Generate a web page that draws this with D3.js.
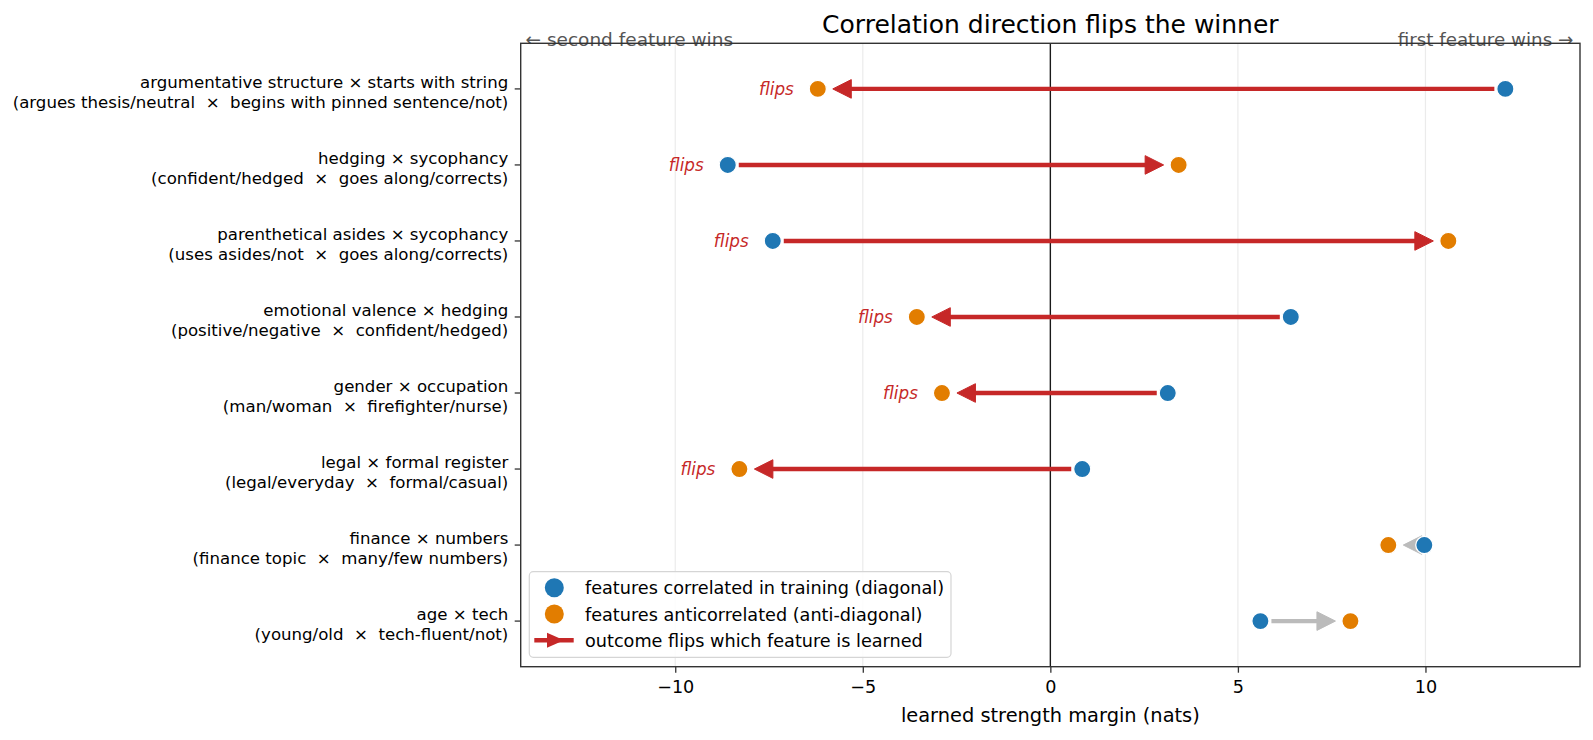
<!DOCTYPE html>
<html>
<head>
<meta charset="utf-8">
<script src="https://cdn.jsdelivr.net/npm/d3@7"></script>
<style>
  html, body { margin: 0; padding: 0; background: #fff; }
  text { font-family: "DejaVu Sans", sans-serif; white-space: pre; }
</style>
</head>
<body>
<svg id="chart" width="1593" height="740"></svg>
<script>
// ---- data ----
const pairNames = [
  "argumentative structure × starts with string",
  "hedging × sycophancy",
  "parenthetical asides × sycophancy",
  "emotional valence × hedging",
  "gender × occupation",
  "legal × formal register",
  "finance × numbers",
  "age × tech"
];
const pairDetails = [
  "(argues thesis/neutral  ×  begins with pinned sentence/not)",
  "(confident/hedged  ×  goes along/corrects)",
  "(uses asides/not  ×  goes along/corrects)",
  "(positive/negative  ×  confident/hedged)",
  "(man/woman  ×  firefighter/nurse)",
  "(legal/everyday  ×  formal/casual)",
  "(finance topic  ×  many/few numbers)",
  "(young/old  ×  tech-fluent/not)"
];
const diagonalMargin =     [12.13, -8.60, -7.40,  6.41,  3.13,  0.85, 9.97, 5.60];
const antiDiagonalMargin = [-6.20,  3.42, 10.61, -3.56, -2.89, -8.29, 9.01, 8.00];
const xTickValues = [-10, -5, 0, 5, 10];
const xDomain = [-14.12, 14.12];
const legendLabels = [
  "features correlated in training (diagonal)",
  "features anticorrelated (anti-diagonal)",
  "outcome flips which feature is learned"
];

// ---- layout ----
const L = 520.7, R = 1580, T = 43.3, B = 666.7;
const BLUE = "#1f77b4", ORANGE = "#e27d00", RED = "#c62828", GREY = "#bbbbbb";

const svg = d3.select("#chart");
const x = d3.scaleLinear().domain(xDomain).range([L, R]);
const y = d3.scalePoint().domain(d3.range(pairNames.length)).range([T, B]).padding(0.6);

const rows = pairNames.map((n, i) => ({
  i, name: n, detail: pairDetails[i],
  a: diagonalMargin[i], b: antiDiagonalMargin[i],
  flip: Math.sign(diagonalMargin[i]) !== Math.sign(antiDiagonalMargin[i])
}));

// grid
svg.append("g").selectAll("line").data(xTickValues.filter(d => d !== 0)).join("line")
  .attr("x1", d => x(d)).attr("x2", d => x(d)).attr("y1", T).attr("y2", B)
  .attr("stroke", "#ebebeb").attr("stroke-width", 1.2);

// zero line
svg.append("line").attr("x1", x(0)).attr("x2", x(0)).attr("y1", T).attr("y2", B)
  .attr("stroke", "#1a1a1a").attr("stroke-width", 1.4);

// arrows
const shrinkA = 11, shrinkB = 15, headL = 18.5, headW = 9.3;
const arrows = svg.append("g");
rows.forEach(r => {
  const x1 = x(r.a), x2 = x(r.b), yy = y(r.i);
  const dir = Math.sign(x2 - x1);
  const start = x1 + dir * shrinkA;
  const tip = x2 - dir * shrinkB;
  const base = tip - dir * headL;
  const col = r.flip ? RED : GREY;
  if (dir * (base - start) > 0) {
    arrows.append("line").attr("x1", start).attr("x2", base + dir * 2).attr("y1", yy).attr("y2", yy)
      .attr("stroke", col).attr("stroke-width", 4.4);
  }
  arrows.append("path")
    .attr("d", `M${tip},${yy} L${base},${yy - headW} L${base},${yy + headW} Z`)
    .attr("fill", col).attr("stroke", col).attr("stroke-width", 1).attr("stroke-linejoin", "round");
});

// dots
const dots = svg.append("g");
dots.selectAll("circle.b").data(rows).join("circle").attr("class", "b")
  .attr("cx", d => x(d.b)).attr("cy", d => y(d.i)).attr("r", 8.6)
  .attr("fill", ORANGE).attr("stroke", "#fff").attr("stroke-width", 1.3);
dots.selectAll("circle.a").data(rows).join("circle").attr("class", "a")
  .attr("cx", d => x(d.a)).attr("cy", d => y(d.i)).attr("r", 8.6)
  .attr("fill", BLUE).attr("stroke", "#fff").attr("stroke-width", 1.3);

// flips labels
svg.append("g").selectAll("text").data(rows.filter(r => r.flip)).join("text")
  .attr("x", d => Math.min(x(d.a), x(d.b)) - 24)
  .attr("y", d => y(d.i) + 5.6)
  .attr("text-anchor", "end").attr("font-style", "italic")
  .attr("font-size", 16.8).attr("fill", RED)
  .text("flips");

// annotations (under frame)
svg.append("text").attr("x", 525.5).attr("y", 46).attr("font-size", 18.5).attr("fill", "#555")
  .text("← second feature wins");
svg.append("text").attr("x", 1573.3).attr("y", 46).attr("font-size", 18.3).attr("fill", "#555")
  .attr("text-anchor", "end").text("first feature wins →");

// frame
svg.append("rect").attr("x", L).attr("y", T).attr("width", R - L).attr("height", B - T)
  .attr("fill", "none").attr("stroke", "#333").attr("stroke-width", 1.4);

// x axis
const xAxis = svg.append("g").attr("transform", `translate(0,${B})`)
  .call(d3.axisBottom(x).tickValues(xTickValues).tickSize(6).tickPadding(8));
xAxis.select(".domain").remove();
xAxis.selectAll(".tick line").attr("stroke", "#333").attr("stroke-width", 1.3);
xAxis.selectAll(".tick text").attr("font-size", 17.6).attr("fill", "#000")
  .attr("font-family", "DejaVu Sans");

svg.append("text").attr("x", (L + R) / 2).attr("y", 722.3).attr("text-anchor", "middle")
  .attr("font-size", 19.4).attr("fill", "#000").text("learned strength margin (nats)");

// y ticks & labels
const yg = svg.append("g");
yg.selectAll("line").data(rows).join("line")
  .attr("x1", L - 6).attr("x2", L).attr("y1", d => y(d.i)).attr("y2", d => y(d.i))
  .attr("stroke", "#333").attr("stroke-width", 1.3);
const yl = yg.selectAll("text").data(rows).join("text")
  .attr("text-anchor", "end").attr("font-size", 16.6).attr("fill", "#000");
yl.append("tspan").attr("x", 508.3).attr("y", d => y(d.i) - 0.8).text(d => d.name);
yl.append("tspan").attr("x", 508.3).attr("y", d => y(d.i) + 18.9).text(d => d.detail);

// title
svg.append("text").attr("x", (L + R) / 2).attr("y", 33).attr("text-anchor", "middle")
  .attr("font-size", 25).attr("fill", "#000").text("Correlation direction flips the winner");

// legend
const lg = svg.append("g");
lg.append("rect").attr("x", 529.3).attr("y", 571.7).attr("width", 421.7).attr("height", 85.6)
  .attr("rx", 4).attr("fill", "#fff").attr("fill-opacity", 0.85)
  .attr("stroke", "#d5d5d5").attr("stroke-width", 1.2);
const ly = [587.7, 614, 640.3];
lg.append("circle").attr("cx", 554.3).attr("cy", ly[0]).attr("r", 9.5).attr("fill", BLUE);
lg.append("circle").attr("cx", 554.3).attr("cy", ly[1]).attr("r", 9.5).attr("fill", ORANGE);
lg.append("line").attr("x1", 534.3).attr("x2", 573.7).attr("y1", ly[2]).attr("y2", ly[2])
  .attr("stroke", RED).attr("stroke-width", 4.4);
lg.append("path").attr("d", `M564,${ly[2]} L547,${ly[2] - 7.5} L547,${ly[2] + 7.5} Z`).attr("fill", RED);
lg.selectAll("text").data(legendLabels).join("text")
  .attr("x", 585).attr("y", (d, i) => ly[i] + 6.5).attr("font-size", 17.65).attr("fill", "#000")
  .text(d => d);
</script>
</body>
</html>
